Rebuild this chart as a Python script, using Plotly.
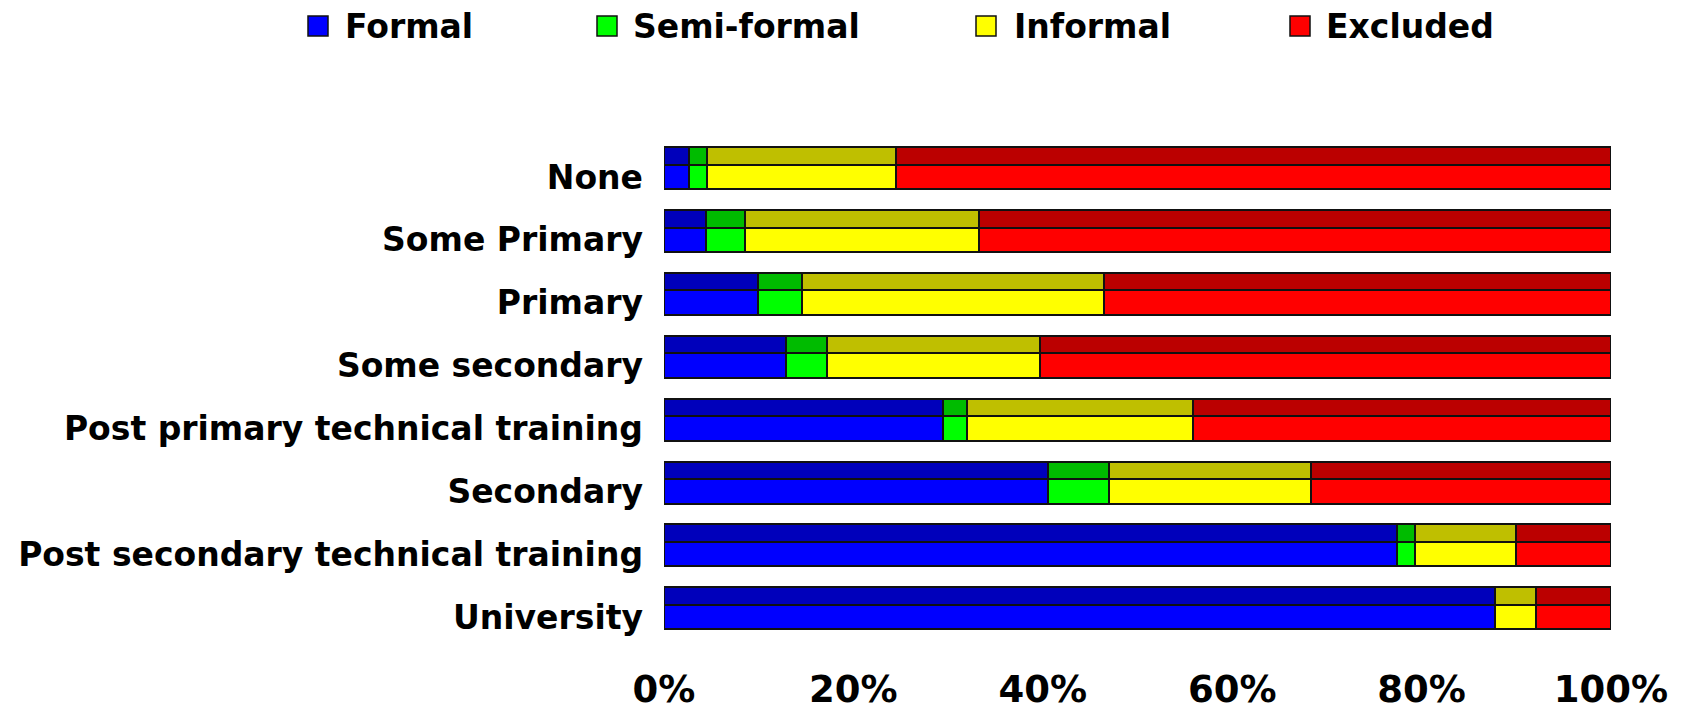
import plotly.graph_objects as go

# Education level categories (top to bottom) and the share of each inclusion group (%)
categories = ["None", "Some Primary", "Primary", "Some secondary",
              "Post primary technical training", "Secondary",
              "Post secondary technical training", "University"]
formal = [2.6, 4.4, 9.9, 12.9, 29.5, 40.6, 77.4, 87.7]
semi_formal = [1.9, 4.2, 4.7, 4.3, 2.5, 6.4, 1.9, 0.0]
informal = [20.0, 24.7, 31.9, 22.5, 23.9, 21.3, 10.7, 4.4]
excluded = [75.5, 66.7, 53.5, 60.3, 44.1, 31.7, 10.0, 7.9]

series_names = ["Formal", "Semi-formal", "Informal", "Excluded"]
x_ticks = [0, 20, 40, 60, 80, 100]
x_tick_labels = ["0%", "20%", "40%", "60%", "80%", "100%"]

# front-face colour and darker top-face colour for each group
face_colors = ["#0000FF", "#00FF00", "#FFFF00", "#FF0000"]
top_colors = ["#0000BB", "#00BB00", "#BFBF00", "#BB0000"]

FONT = "DejaVu Sans"
W, H = 1690, 714
ML, MR, MT, MB = 664, 79, 100, 64
PW, PH = W - ML - MR, H - MT - MB

FACE_H = 0.39      # front face thickness (category units)
TOP_H = 0.278      # depth strip drawn above the face

y_pos = list(range(len(categories)))
fig = go.Figure()

values = [formal, semi_formal, informal, excluded]
base = [0.0] * len(categories)
for name, vals, fc, tc in zip(series_names, values, face_colors, top_colors):
    # darker top strip
    fig.add_trace(go.Bar(
        y=y_pos, x=vals, base=base, orientation="h",
        width=TOP_H, offset=-FACE_H / 2 - TOP_H,
        marker=dict(color=tc, line=dict(color="#111111", width=2)),
        name=name, showlegend=False, hoverinfo="skip"))
    # front face
    fig.add_trace(go.Bar(
        y=y_pos, x=vals, base=base, orientation="h",
        width=FACE_H, offset=-FACE_H / 2,
        marker=dict(color=fc, line=dict(color="#111111", width=2)),
        name=name, showlegend=False))
    base = [b + v for b, v in zip(base, vals)]


def px_x(px):
    return (px - ML) / PW


def px_y(py):
    return (H - MB - py) / PH


# legend row drawn along the top
legend_sq_x = [308, 597, 976, 1290]
legend_txt_x = [343, 631, 1012, 1324]
shapes, annotations = [], []
for name, fc, sx, tx in zip(series_names, face_colors, legend_sq_x, legend_txt_x):
    shapes.append(dict(type="rect", xref="paper", yref="paper",
                       x0=px_x(sx), x1=px_x(sx + 20), y0=px_y(36), y1=px_y(16),
                       fillcolor=fc, line=dict(color="#111111", width=1.5)))
    annotations.append(dict(text=name, xref="paper", yref="paper",
                            x=px_x(tx), y=px_y(27), xanchor="left", yanchor="middle",
                            showarrow=False,
                            font=dict(family=FONT, size=33, color="black", weight="bold")))

fig.update_layout(
    width=W, height=H,
    margin=dict(l=ML, r=MR, t=MT, b=MB, autoexpand=False),
    paper_bgcolor="white", plot_bgcolor="white",
    barmode="overlay", bargap=0,
    shapes=shapes, annotations=annotations,
    showlegend=False,
)
fig.update_xaxes(
    range=[0, 100], tickvals=x_ticks, ticktext=x_tick_labels,
    showgrid=False, zeroline=False, showline=False, ticks="",
    automargin=False, ticklabelstandoff=14,
    tickfont=dict(family=FONT, size=37, color="black", weight="bold"),
)
fig.update_yaxes(
    range=[7.525, -1.225], tickvals=y_pos, ticktext=categories,
    showgrid=False, zeroline=False, showline=False, ticks="",
    automargin=False, ticklabelstandoff=20,
    tickfont=dict(family=FONT, size=33, color="black", weight="bold"),
)

fig.write_html("out.html")
